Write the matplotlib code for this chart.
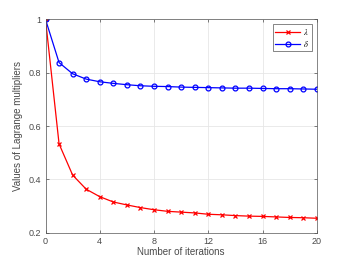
import matplotlib
matplotlib.use("Agg")
import matplotlib.pyplot as plt

iterations = list(range(0, 21))
lam = [1.0, 0.533, 0.416, 0.363, 0.335, 0.315, 0.304, 0.294, 0.286, 0.280, 0.277,
       0.274, 0.269, 0.267, 0.264, 0.262, 0.261, 0.259, 0.257, 0.256, 0.254]
delta = [1.0, 0.838, 0.796, 0.776, 0.766, 0.760, 0.755, 0.751, 0.749, 0.748, 0.746,
         0.745, 0.744, 0.743, 0.742, 0.742, 0.741, 0.740, 0.740, 0.739, 0.738]
xticks = [0, 4, 8, 12, 16, 20]
yticks = [0.2, 0.4, 0.6, 0.8, 1.0]
yticklabels = ["0.2", "0.4", "0.6", "0.8", "1"]

plt.rcParams["font.family"] = "Liberation Sans"
plt.rcParams["mathtext.fontset"] = "stix"
txt = "#4a4a4a"

fig = plt.figure(figsize=(3.5, 2.62), dpi=100)
ax = fig.add_axes([0.13, 0.112, 0.775, 0.814])

ax.plot(iterations, lam, color="red", marker="x", markersize=3, linewidth=0.9,
        markeredgewidth=0.9, label=r"$\lambda$")
ax.plot(iterations, delta, color="blue", marker="o", markersize=3.5, linewidth=0.9,
        markerfacecolor="none", markeredgewidth=0.9, label=r"$\delta$")

ax.set_xlim(0, 20)
ax.set_ylim(0.2, 1.0)
ax.set_xticks(xticks)
ax.set_yticks(yticks)
ax.set_yticklabels(yticklabels)
ax.grid(True, color="#e6e6e6", linewidth=0.6)
ax.set_axisbelow(True)
ax.tick_params(direction="in", length=2.5, width=0.5, labelsize=6.5,
               colors=txt, top=True, right=True, labeltop=False, labelright=False,
               pad=3)
for s in ax.spines.values():
    s.set_color("#555555")
    s.set_linewidth(0.5)

ax.set_xlabel("Number of iterations", fontsize=7, color=txt, labelpad=1)
ax.set_ylabel("Values of Lagrange multipliers", fontsize=7, color=txt, labelpad=4)

leg = ax.legend(loc="upper right", fontsize=6, fancybox=False, framealpha=1,
                edgecolor="#555555", handlelength=3, borderpad=0.3, labelspacing=0.2,
                handletextpad=0.4, borderaxespad=0.6)
leg.get_frame().set_linewidth(0.5)

fig.savefig("out.png", dpi=100)
